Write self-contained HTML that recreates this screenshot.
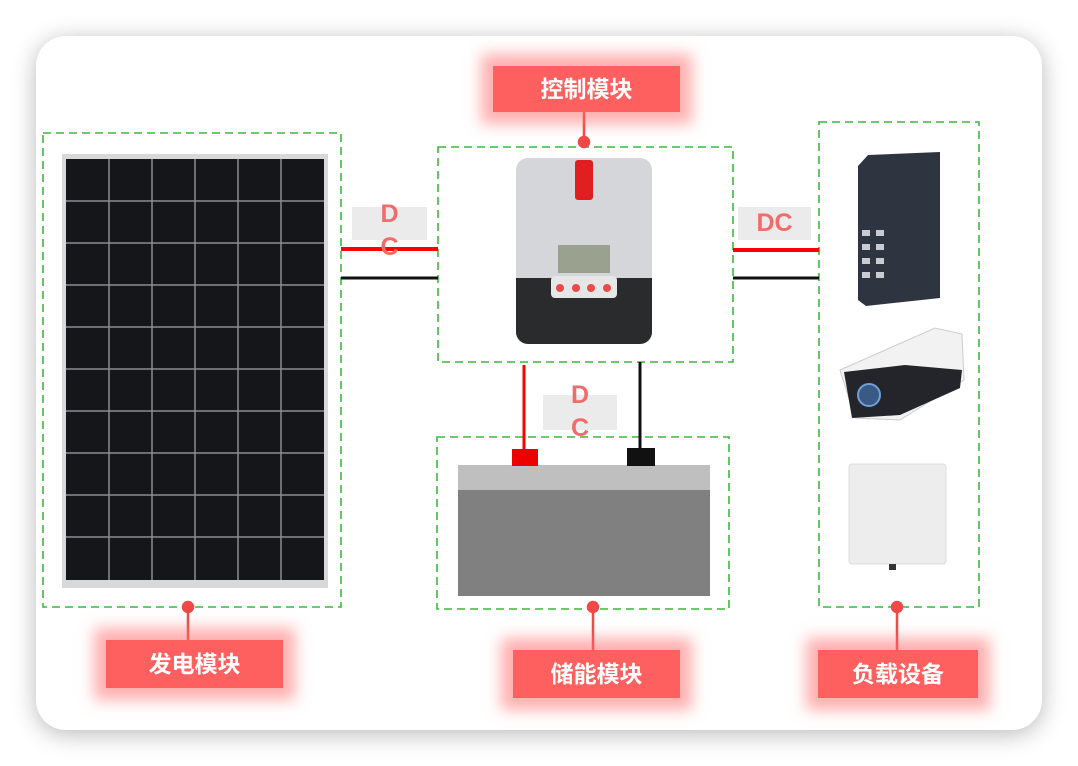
<!DOCTYPE html>
<html><head><meta charset="utf-8"><style>
html,body{margin:0;padding:0;background:#fff;width:1078px;height:766px;overflow:hidden}
.card{position:absolute;left:36px;top:36px;width:1006px;height:694px;background:#fff;border-radius:30px;box-shadow:0 4px 24px rgba(0,0,0,0.28)}
.lbl{position:absolute;background:#fe5f5f;color:#fff;font:bold 23px "Liberation Sans","Noto Sans CJK SC",sans-serif;text-align:center;box-shadow:0 0 14px 12px rgba(255,110,110,0.55)}
.dc{position:absolute;background:#ebebeb;color:#f26b6b;font:bold 25px "Liberation Sans",sans-serif;text-align:center}
</style></head><body>
<div class="card"></div>
<svg width="1078" height="766" style="position:absolute;left:0;top:0">
<g fill="none" stroke="#3cb93c" stroke-width="1.6" stroke-dasharray="8,5">
<rect x="43" y="133" width="298" height="474"/>
<rect x="438" y="147" width="295" height="215"/>
<rect x="437" y="437" width="292" height="172"/>
<rect x="819" y="122" width="160" height="485"/>
</g>
<!-- solar panel -->
<rect x="62" y="154" width="266" height="434" fill="#d8d8d8"/>
<rect x="66" y="159" width="258" height="421" fill="#15161a"/>
<g stroke="#8a8d92" stroke-width="1.5">
<line x1="109" y1="159" x2="109" y2="580"/><line x1="152" y1="159" x2="152" y2="580"/><line x1="195" y1="159" x2="195" y2="580"/><line x1="238" y1="159" x2="238" y2="580"/><line x1="281" y1="159" x2="281" y2="580"/>
<line x1="66" y1="201" x2="324" y2="201"/><line x1="66" y1="243" x2="324" y2="243"/><line x1="66" y1="285" x2="324" y2="285"/><line x1="66" y1="327" x2="324" y2="327"/><line x1="66" y1="369" x2="324" y2="369"/><line x1="66" y1="411" x2="324" y2="411"/><line x1="66" y1="453" x2="324" y2="453"/><line x1="66" y1="495" x2="324" y2="495"/><line x1="66" y1="537" x2="324" y2="537"/>
</g>
<!-- wires -->
<line x1="341" y1="249" x2="438" y2="249" stroke="#f00" stroke-width="4"/>
<line x1="341" y1="278" x2="438" y2="278" stroke="#111" stroke-width="3"/>
<line x1="733" y1="250" x2="819" y2="250" stroke="#f00" stroke-width="4"/>
<line x1="733" y1="278" x2="819" y2="278" stroke="#111" stroke-width="3"/>
<line x1="524" y1="365" x2="524" y2="452" stroke="#f00" stroke-width="3"/>
<line x1="640" y1="362" x2="640" y2="450" stroke="#111" stroke-width="3"/>
<!-- battery -->
<rect x="458" y="465" width="252" height="131" fill="#808080"/>
<rect x="458" y="465" width="252" height="25" fill="#bfbfbf"/>
<rect x="512" y="449" width="26" height="17" fill="#e00"/>
<rect x="627" y="448" width="28" height="18" fill="#111"/>
<!-- controller -->
<rect x="516" y="158" width="136" height="186" rx="12" fill="#d4d6d9"/>
<path d="M516 278 H652 V332 a12 12 0 0 1 -12 12 H528 a12 12 0 0 1 -12 -12Z" fill="#2a2b2d"/>
<rect x="551" y="276" width="66" height="22" rx="4" fill="#e6e6e6"/>
<rect x="575" y="160" width="18" height="40" rx="3" fill="#e02020"/>
<rect x="558" y="245" width="52" height="28" fill="#9aa28f"/>
<g fill="#e84a4a"><circle cx="560" cy="288" r="4"/><circle cx="576" cy="288" r="4"/><circle cx="591" cy="288" r="4"/><circle cx="607" cy="288" r="4"/></g>
<!-- switch -->
<path d="M858 166 L868 155 L940 152 L940 298 L866 306 L858 300Z" fill="#2e3440"/>
<g fill="#c9ccd0"><rect x="862" y="230" width="8" height="6"/><rect x="876" y="230" width="8" height="6"/><rect x="862" y="244" width="8" height="6"/><rect x="876" y="244" width="8" height="6"/><rect x="862" y="258" width="8" height="6"/><rect x="876" y="258" width="8" height="6"/><rect x="862" y="272" width="8" height="6"/><rect x="876" y="272" width="8" height="6"/></g>
<!-- camera -->
<path d="M840 370 L935 328 L962 334 L964 380 L900 420 L855 418Z" fill="#f2f2f2" stroke="#ccc"/>
<path d="M844 372 L905 365 L962 370 L960 388 L900 415 L852 418Z" fill="#23252b"/>
<circle cx="869" cy="395" r="11" fill="#3a5a85" stroke="#6fa0d8" stroke-width="2"/>
<!-- AP -->
<rect x="849" y="464" width="97" height="100" rx="3" fill="#ededed" stroke="#ddd"/>
<rect x="889" y="564" width="7" height="6" fill="#333"/>
<!-- connector dots -->
<g stroke="#f24848" stroke-width="2.5" fill="#f24848">
<line x1="584" y1="112" x2="584" y2="142"/><circle cx="584" cy="142" r="5"/>
<line x1="188" y1="607" x2="188" y2="640"/><circle cx="188" cy="607" r="5"/>
<line x1="593" y1="607" x2="593" y2="650"/><circle cx="593" cy="607" r="5"/>
<line x1="897" y1="607" x2="897" y2="650"/><circle cx="897" cy="607" r="5"/>
</g>
</svg>
<div class="dc" style="left:352px;top:207px;width:75px;height:33px;line-height:1"><div style="position:absolute;left:0;width:75px;top:-9px;height:66px;line-height:33px">D<br>C</div></div>
<div class="dc" style="left:738px;top:207px;width:73px;height:33px;line-height:33px">DC</div>
<div class="dc" style="left:543px;top:395px;width:74px;height:35px"><div style="position:absolute;left:0;width:74px;top:-16px;height:66px;line-height:33px">D<br>C</div></div>
<div class="lbl" style="left:493px;top:66px;width:187px;height:46px;line-height:46px">控制模块</div>
<div class="lbl" style="left:106px;top:640px;width:177px;height:48px;line-height:48px">发电模块</div>
<div class="lbl" style="left:513px;top:650px;width:167px;height:48px;line-height:48px">储能模块</div>
<div class="lbl" style="left:818px;top:650px;width:160px;height:48px;line-height:48px">负载设备</div>
</body></html>
